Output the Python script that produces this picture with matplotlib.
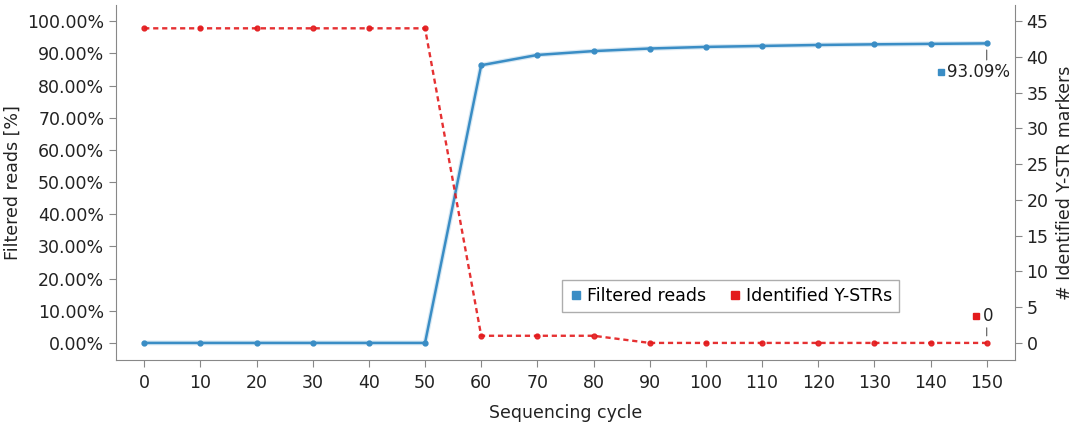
import matplotlib
matplotlib.use("Agg")
import matplotlib.pyplot as plt
from matplotlib.ticker import FuncFormatter, MultipleLocator
from matplotlib.lines import Line2D

cycles = [0, 10, 20, 30, 40, 50, 60, 70, 80, 90, 100, 110, 120, 130, 140, 150]
filtered_pct = [0, 0, 0, 0, 0, 0, 86.3, 89.5, 90.7, 91.5, 92.0, 92.3, 92.6, 92.8, 92.95, 93.09]
ystr_markers = [44, 44, 44, 44, 44, 44, 1, 1, 1, 0, 0, 0, 0, 0, 0, 0]

blue = "#3a8dc5"
red = "#e31a1c"
grey = "#888888"
txt = "#222222"

plt.rcParams["font.family"] = ["DejaVu Sans"]
plt.rcParams["font.size"] = 12

fig = plt.figure(figsize=(10.75, 4.23), dpi=100)
ax = fig.add_axes([0.108, 0.149, 0.836, 0.839])
ax2 = ax.twinx()

ax.plot(cycles, filtered_pct, color=blue, lw=3.5, alpha=0.2, solid_capstyle="round", zorder=2)
ax.plot(cycles, filtered_pct, color=blue, lw=1.8, marker="o", ms=3.5, zorder=3)
ax2.plot(cycles, ystr_markers, color=red, lw=1.7, ls=(0, (2.2, 1.6)), marker="o", ms=3.5, alpha=0.9, zorder=3)

ax.set_xlim(-5, 155)
ax.set_ylim(-5.3, 105)
ax2.set_ylim(-5.3 * 0.45, 105 * 0.45)

ax.xaxis.set_major_locator(MultipleLocator(10))
ax.yaxis.set_major_locator(MultipleLocator(10))
ax.yaxis.set_major_formatter(FuncFormatter(lambda v, p: f"{v:.2f}%"))
ax2.set_yticks(range(0, 46, 5))

for a in (ax, ax2):
    for s in a.spines.values():
        s.set_color(grey)
    a.spines["top"].set_visible(False)
    a.tick_params(colors=grey, labelcolor=txt, length=5, labelsize=12.5)
ax.tick_params(axis="x", pad=5)
ax.spines["right"].set_visible(False)
ax2.spines["left"].set_visible(False)
ax2.spines["bottom"].set_visible(False)

ax.set_xlabel("Sequencing cycle", fontsize=12.5, color=txt, labelpad=9)
ax.set_ylabel("Filtered reads [%]", fontsize=12.5, color=txt, labelpad=4)
ax2.set_ylabel("# Identified Y-STR markers", fontsize=12.5, color=txt, labelpad=5)

# end labels
ax.annotate("", xy=(cycles[-1], filtered_pct[-1] - 1.2), xytext=(cycles[-1], filtered_pct[-1] - 6),
            arrowprops=dict(arrowstyle="-", color="#555555", lw=0.8))
ax.plot([141.9], [filtered_pct[-1] - 8.8], marker="s", ms=4.5, color=blue, ls="none")
ax.text(143.0, filtered_pct[-1] - 8.8, f"{filtered_pct[-1]:.2f}%", va="center", ha="left", color=txt, fontsize=12)

ax2.annotate("", xy=(cycles[-1], ystr_markers[-1] + 0.6), xytext=(cycles[-1], ystr_markers[-1] + 2.5),
             arrowprops=dict(arrowstyle="-", color="#555555", lw=0.8))
ax2.plot([148.1], [ystr_markers[-1] + 3.7], marker="s", ms=5, color=red, ls="none")
ax2.text(149.4, ystr_markers[-1] + 3.7, f"{ystr_markers[-1]}", va="center", ha="left", color=txt, fontsize=12)

handles = [Line2D([], [], marker="s", color=blue, ls="none", ms=6),
           Line2D([], [], marker="s", color=red, ls="none", ms=6)]
leg = ax.legend(handles, ["Filtered reads", "Identified Y-STRs"], ncol=2, loc="lower left",
                bbox_to_anchor=(0.487, 0.11), frameon=True, fancybox=False, fontsize=12.5,
                handletextpad=0.2, columnspacing=1.3, handlelength=0.8, borderpad=0.4)
leg.get_frame().set_edgecolor("#999999")
leg.get_frame().set_linewidth(1)

fig.savefig("out.png", dpi=100)
